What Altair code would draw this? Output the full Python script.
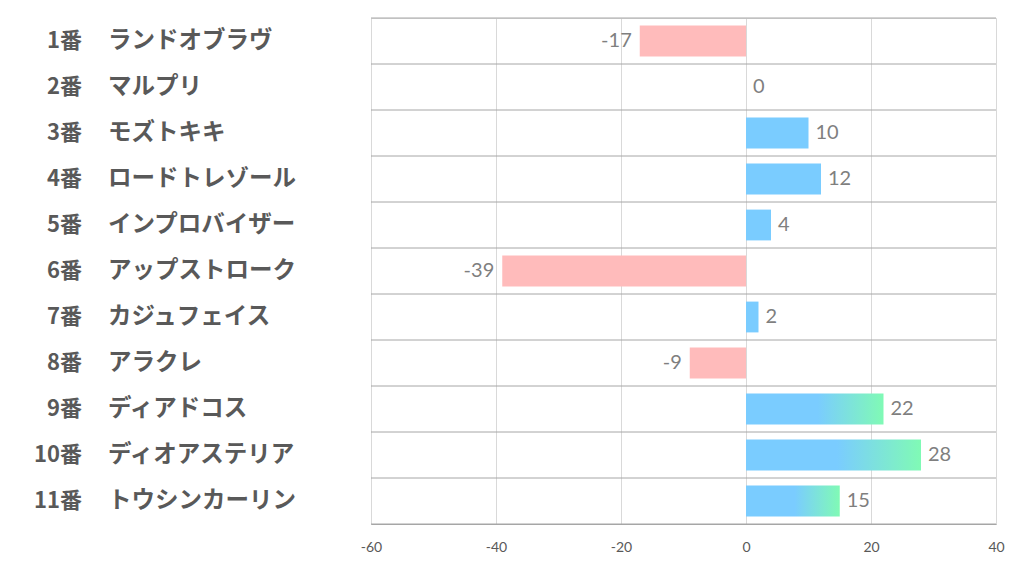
import altair as alt
import pandas as pd

nums = ["1番", "2番", "3番", "4番", "5番", "6番", "7番", "8番", "9番", "10番", "11番"]
names = ["ランドオブラヴ", "マルプリ", "モズトキキ", "ロードトレゾール", "インプロバイザー",
         "アップストローク", "カジュフェイス", "アラクレ", "ディアドコス", "ディオアステリア", "トウシンカーリン"]
values = [-17, 0, 10, 12, 4, -39, 2, -9, 22, 28, 15]
x_ticks = [-60, -40, -20, 0, 20, 40]
row_edges = list(range(12))

df = pd.DataFrame({"key": [f"{n}{m}" for n, m in zip(nums, names)], "num": nums, "name": names, "value": values})
edges = pd.DataFrame({"edge": row_edges})

order = df["key"].tolist()
yenc = alt.Y("key:N", sort=order, axis=None,
             scale=alt.Scale(paddingInner=0.33, paddingOuter=0.165))
xscale = alt.Scale(domain=[-60, 40], nice=False)
xenc = alt.X("value:Q", scale=xscale,
             axis=alt.Axis(values=x_ticks, title=None, grid=True, gridColor="#D9D9D9",
                           domainColor="#A6A6A6", ticks=False, labelPadding=16, labelFlush=False,
                           labelExpr="datum.value + ''",
                           labelFont="Lato", labelFontSize=14, labelColor="#595959"))

base = alt.Chart(df).transform_calculate(lbl="datum.value + ''")

neg = base.transform_filter("datum.value < 0").mark_bar(color="#FFBBBB").encode(
    x=xenc, x2=alt.datum(0), y=yenc)
pos = base.transform_filter("datum.value >= 0 && datum.value < 15").mark_bar(color="#7ACCFF").encode(
    x=xenc, x2=alt.datum(0), y=yenc)
grad = base.transform_filter("datum.value >= 15").mark_bar(
    color=alt.LinearGradient(gradient="linear", x1=0, x2=1, y1=0, y2=0,
                             stops=[alt.GradientStop(offset=0, color="#7ACCFF"),
                                    alt.GradientStop(offset=0.52, color="#7ACCFF"),
                                    alt.GradientStop(offset=1, color="#80FAB5")])
).encode(x=xenc, x2=alt.datum(0), y=yenc)

txt_neg = base.transform_filter("datum.value < 0").mark_text(
    align="right", dx=-8, font="Lato", fontSize=20, color="#7F7F7F", baseline="middle"
).encode(x=alt.X("value:Q", scale=xscale), y=yenc, text="lbl:N")
txt_pos = base.transform_filter("datum.value >= 0").mark_text(
    align="left", dx=7, font="Lato", fontSize=20, color="#7F7F7F", baseline="middle"
).encode(x=alt.X("value:Q", scale=xscale), y=yenc, text="lbl:N")

lab_num = base.mark_text(align="right", font="Noto Sans CJK JP", fontWeight="bold", fontSize=22,
                         color="#595959", baseline="middle").encode(
    x=alt.value(-289), y=yenc, text="num:N")
lab_name = base.mark_text(align="left", font="Noto Sans CJK JP", fontWeight="bold", fontSize=23.5,
                          color="#595959", baseline="middle").encode(
    x=alt.value(-263), y=yenc, text="name:N")

bars = alt.layer(neg, pos, grad, txt_neg, txt_pos, lab_num, lab_name)

rules = alt.Chart(edges).mark_rule(color="#A6A6A6", strokeWidth=1).encode(
    y=alt.Y("edge:Q", scale=alt.Scale(domain=[0, 11], nice=False), axis=None))

chart = alt.layer(rules, bars).resolve_scale(y="independent").properties(
    width=625, height=506,
    autosize=alt.AutoSizeParams(type="none"),
    padding={"left": 363, "top": 10, "right": 10, "bottom": 40},
).configure_view(stroke=None).configure(background="white")

chart.save("out.html", embed_options={"renderer": "svg", "actions": False})
